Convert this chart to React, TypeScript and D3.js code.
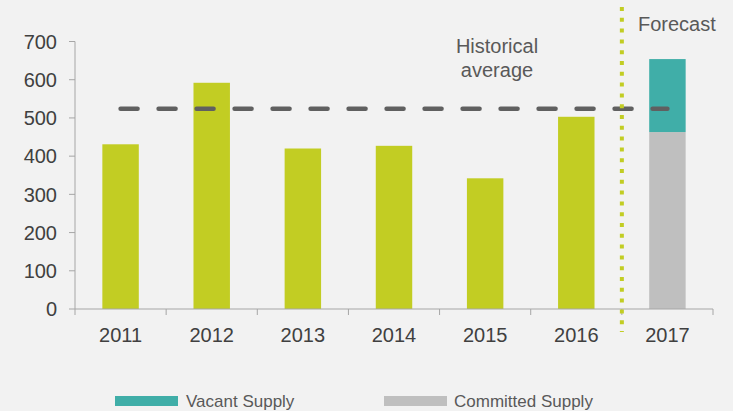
import React from "react";
import * as d3 from "d3";

const categories = ["2011", "2012", "2013", "2014", "2015", "2016", "2017"];
const historicalValues = [431, 592, 420, 427, 342, 503, null];
const committedValues = [null, null, null, null, null, null, 463];
const vacantValues = [null, null, null, null, null, null, 191];
const averageValue = 524;
const yTicks = [0, 100, 200, 300, 400, 500, 600, 700];
const legendItems = ["Vacant Supply", "Committed Supply"];

const W = 733;
const H = 411;
const FONT = "'Liberation Sans', Arial, sans-serif";
const LIME = "#c2cd23";
const TEAL = "#40aea8";
const GREY = "#bfbfbf";

export default function App() {
  const x = d3.scaleBand<string>().domain(categories).range([75, 713]).paddingInner(0.6).paddingOuter(0.3);
  const y = d3.scaleLinear().domain([0, 700]).range([309, 41.5]);
  const step = x.step();
  const xLeft = 75;
  const boundary = xLeft + step * 6;
  const center = (c: string) => (x(c) as number) + x.bandwidth() / 2;

  return (
    <svg width={W} height={H} style={{ position: "absolute", left: 0, top: 0, background: "#f2f2f2" }} fontFamily={FONT}>
      <rect x={0} y={0} width={W} height={H} fill="#f2f2f2" />
      {/* bars */}
      {categories.map((c, i) => {
        const hv = historicalValues[i];
        const cv = committedValues[i];
        const vv = vacantValues[i];
        const bx = x(c) as number;
        const bw = x.bandwidth();
        return (
          <g key={c}>
            {hv != null && <rect x={bx} y={y(hv)} width={bw} height={y(0) - y(hv)} fill={LIME} />}
            {cv != null && <rect x={bx} y={y(cv)} width={bw} height={y(0) - y(cv)} fill={GREY} />}
            {cv != null && vv != null && (
              <rect x={bx} y={y(cv + vv)} width={bw} height={y(cv) - y(cv + vv)} fill={TEAL} />
            )}
          </g>
        );
      })}
      {/* axes */}
      <line x1={75} x2={75} y1={y(700)} y2={y(0)} stroke="#a6a6a6" strokeWidth={1} />
      {yTicks.map((t) => (
        <g key={t}>
          <line x1={69} x2={75} y1={y(t)} y2={y(t)} stroke="#a6a6a6" />
          <text x={57} y={y(t)} dy="0.36em" textAnchor="end" fontSize={20} fill="#404040">
            {t}
          </text>
        </g>
      ))}
      <line x1={75} x2={713} y1={y(0)} y2={y(0)} stroke="#a6a6a6" />
      {d3.range(categories.length + 1).map((k) => (
        <line key={k} x1={xLeft + k * step} x2={xLeft + k * step} y1={y(0)} y2={y(0) + 6} stroke="#a6a6a6" />
      ))}
      {categories.map((c) => (
        <text key={c} x={center(c)} y={341.5} textAnchor="middle" fontSize={20} fill="#404040">
          {c}
        </text>
      ))}
      {/* average line */}
      <line
        x1={center(categories[0])}
        x2={center(categories[categories.length - 1])}
        y1={y(averageValue)}
        y2={y(averageValue)}
        stroke="#606060"
        strokeWidth={4.5}
        strokeLinecap="round"
        strokeDasharray="17 21"
      />
      {/* forecast divider */}
      <line x1={boundary} x2={boundary} y1={7} y2={332} stroke={LIME} strokeWidth={4} strokeDasharray="4 6.8" />
      <text x={638} y={30.5} fontSize={20} fill="#595959">Forecast</text>
      <text x={497} y={53} textAnchor="middle" fontSize={20} fill="#595959">Historical</text>
      <text x={497} y={76.5} textAnchor="middle" fontSize={20} fill="#595959">average</text>
      {/* legend */}
      <rect x={115} y={396} width={63} height={10} fill={TEAL} />
      <text x={186} y={406.5} fontSize={17} fill="#595959">{legendItems[0]}</text>
      <rect x={384} y={396} width={63} height={10} fill={GREY} />
      <text x={454} y={406.5} fontSize={17} fill="#595959">{legendItems[1]}</text>
    </svg>
  );
}
